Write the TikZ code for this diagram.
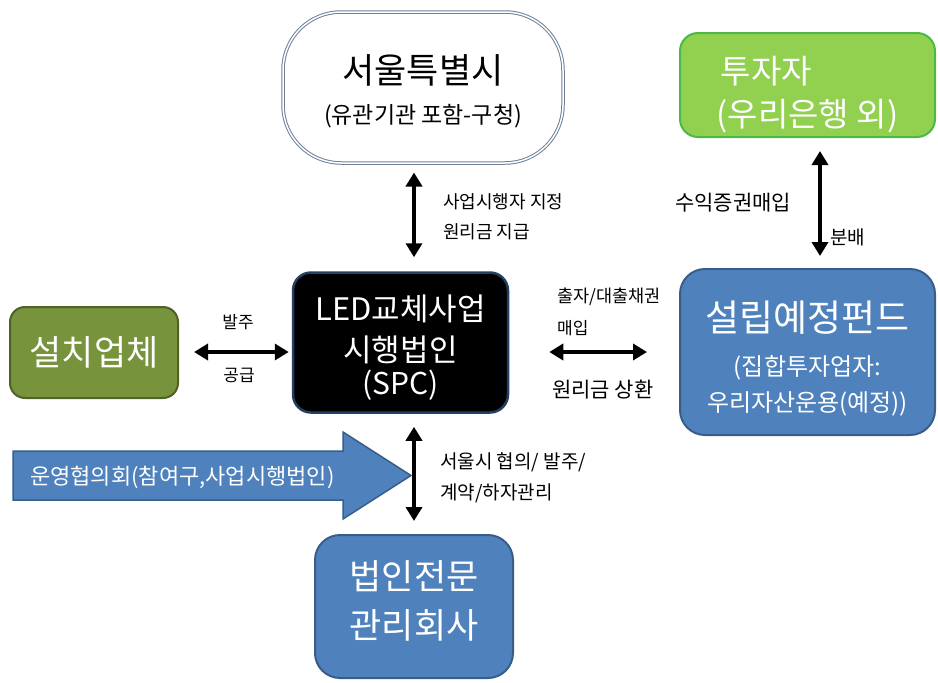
\documentclass[tikz,border=0pt]{standalone}
\usepackage{fontspec}
\setmainfont{Noto Sans CJK KR}
\usetikzlibrary{arrows.meta,positioning}

\definecolor{seoulline}{HTML}{6F7F9C}
\definecolor{investfill}{HTML}{92D050}
\definecolor{investline}{HTML}{4CB848}
\definecolor{olivefill}{HTML}{77933C}
\definecolor{oliveline}{HTML}{4F6228}
\definecolor{fundfill}{HTML}{4F81BD}
\definecolor{fundline}{HTML}{385D8A}
\definecolor{spcline}{HTML}{243F63}

\newcommand{\fs}[1]{\fontsize{#1}{#1}\selectfont}
\newcommand{\pad}[1]{\rule{0pt}{#1}}

\tikzset{
  box/.style={rounded corners=18pt, line width=2pt, text=white, align=center, inner sep=0pt},
  link/.style={line width=3.5pt, {Triangle[width=16pt,length=14pt]}-{Triangle[width=16pt,length=14pt]}},
  lbl/.style={inner sep=0pt, anchor=west, font=\fs{18}},
}

\begin{document}
\begin{tikzpicture}[x=1pt,y=-1pt]
\useasboundingbox (0,0) rectangle (938,683);
%%%%% START %%%%%
% boxes
\node[box, rounded corners=58pt, draw=seoulline, line width=1pt, double=white, double distance=1.5pt, text=black,
      minimum width=280pt, minimum height=151pt, font={\fontsize{23}{40}\selectfont}] (seoul) at (423,87.5)
      {\fs{35}\pad{36pt}서울특별시\\\fs{23}(유관기관 포함-구청)};
\node[box, fill=investfill, draw=investline, align=left,
      minimum width=255pt, minimum height=104pt, font={\fontsize{33}{43}\selectfont}] (invest) at (807.5,85)
      {\pad{47pt}\hspace{4pt}투자자\\(우리은행 외)};
\node[box, rounded corners=15pt, fill=olivefill, draw=oliveline,
      minimum width=168pt, minimum height=91pt] (install) at (94,352.5)
      {\fs{35}설치업체};
\node[box, fill=black, draw=spcline, line width=2.5pt,
      minimum width=215pt, minimum height=140pt, font={\fontsize{31}{41}\selectfont}] (spc) at (400.5,342.5)
      {\pad{36pt}LED교체사업\\시행법인\\[-8.2pt]\fs{30}(SPC)};
\node[box, rounded corners=25pt, fill=fundfill, draw=fundline,
      minimum width=255pt, minimum height=166pt, font={\fontsize{24}{44}\selectfont}] (fund) at (807.5,352)
      {\fs{37}\pad{42.8pt}설립예정펀드\\(집합투자업자:\\[-8pt]우리자산운용(예정))};
\node[box, rounded corners=25pt, fill=fundfill, draw=fundline,
      minimum width=198pt, minimum height=143pt, font={\fontsize{35}{49}\selectfont}] (mgmt) at (414,606.5)
      {법인전문\\관리회사\rule[-14.5pt]{0pt}{14.5pt}};

% big arrow
\coordinate (council tip) at (411,475.5);
\filldraw[fill=fundfill, draw=fundline, line width=1.5pt]
  (13,451) -- (343,451) -- (343,432) -- (council tip) -- (343,519) -- (343,500) -- (13,500) -- cycle;
\node[lbl, text=white, font=\fs{22}] (council) at (30,477) {운영협의회(참여구,사업시행법인)};

% connectors
\coordinate (axis spc) at (414,0);
\coordinate (axis invest) at (820,0);
\coordinate (row install) at (0,352);
\coordinate (row fund) at (0,352);
\draw[link, shorten <=9pt, shorten >=14pt] (seoul.south -| axis spc) -- (spc.north -| axis spc);
\draw[link, shorten <=13pt, shorten >=12pt] (invest.south -| axis invest) -- (fund.north -| axis invest);
\draw[link, shorten <=15pt, shorten >=3pt] (install.east |- row install) -- (spc.west |- row install);
\draw[link, shorten <=40pt, shorten >=32pt] (spc.east |- row fund) -- (fund.west |- row fund);
\draw[link, shorten <=13pt, shorten >=13pt] (spc.south -| axis spc) -- (mgmt.north -| axis spc);

% labels
\node[lbl] (appoint) at (443,202) {사업시행자 지정};
\node[lbl] (repay) at (443,232) {원리금 지급};
\node[lbl, font=\fs{21}] (buy) at (675,203) {수익증권매입};
\node[lbl, font=\fs{19}] (share) at (830,237) {분배};
\node[lbl, font=\fs{17}, anchor=center] (order) at (238,322) {발주};
\node[lbl, font=\fs{17}, anchor=center] (supply) at (239,375) {공급};
\node[lbl, font=\fs{17.5}] (loan) at (557,297) {출자/대출채권};
\node[lbl, font=\fs{17}] (loanbuy) at (557,328) {매입};
\node[lbl, font=\fs{21}] (return) at (552,390) {원리금 상환};
\node[lbl, font=\fs{19}] (consult) at (440,462) {서울시 협의/ 발주/};
\node[lbl, font=\fs{19}] (contract) at (440,493) {계약/하자관리};
%%%%% END %%%%%
\end{tikzpicture}
\end{document}
